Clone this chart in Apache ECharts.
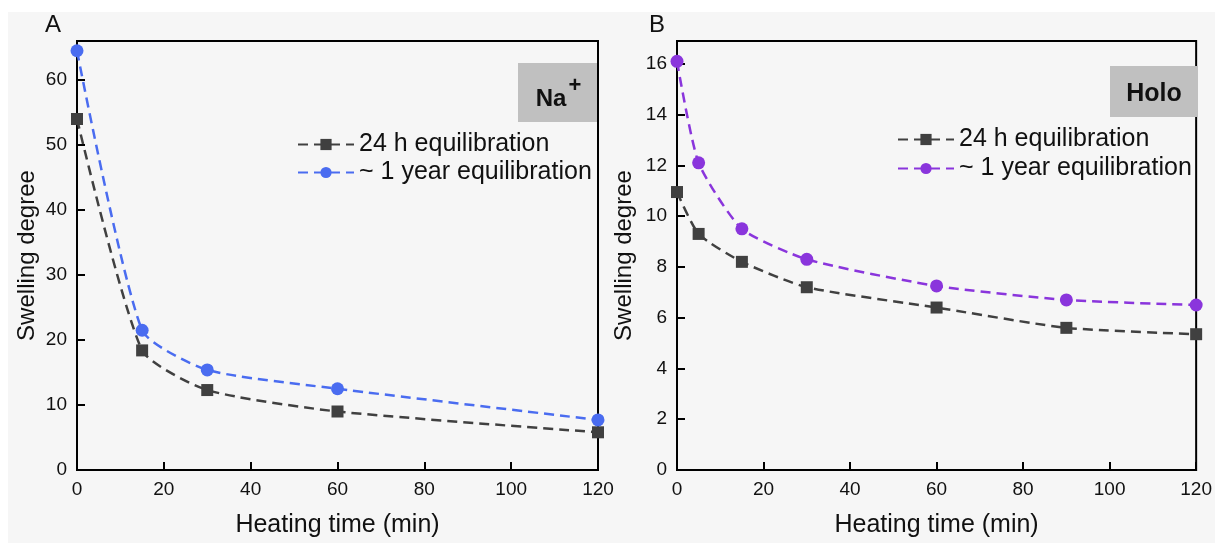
<!DOCTYPE html>
<html>
<head>
<meta charset="utf-8">
<script src="https://cdn.jsdelivr.net/npm/echarts@6/dist/echarts.min.js"></script>
<style>
html,body{margin:0;padding:0;background:#ffffff;}
#chart{width:1215px;height:543px;}
</style>
</head>
<body>
<div id="chart"></div>
<script>
// ---- data ----
const timesA = [0, 15, 30, 60, 120];
const naDay = [54.0, 18.4, 12.3, 9.0, 5.8];
const naYear = [64.5, 21.5, 15.4, 12.5, 7.7];

const timesB = [0, 5, 15, 30, 60, 90, 120];
const holoDay = [10.95, 9.3, 8.2, 7.2, 6.4, 5.6, 5.35];
const holoYear = [16.1, 12.1, 9.5, 8.3, 7.25, 6.7, 6.5];

const seriesLabels = {
  aDay: '24 h equilibration',
  aYear: '~ 1 year equilibration',
  bDay: '24 h equilibration',
  bYear: '~ 1 year equilibration'
};
const xTicks = [0, 20, 40, 60, 80, 100, 120];
const yTicksA = [0, 10, 20, 30, 40, 50, 60];
const yTicksB = [0, 2, 4, 6, 8, 10, 12, 14, 16];
const panelTitles = ['A', 'B'];
const boxLabels = ['Na', '+', 'Holo'];

// ---- styles ----
const FONT = '"Liberation Sans", Arial, Helvetica, sans-serif';
const DARK = '#404040';
const BLUE = '#4a6cf0';
const PURPLE = '#8a35dc';

function pair(xs, ys) { return xs.map((x, i) => [x, ys[i]]); }

function xAxisCfg(gridIndex) {
  return {
    gridIndex, type: 'value', min: 0, max: 120, interval: 20,
    name: 'Heating time (min)', nameLocation: 'middle', nameGap: 43,
    nameTextStyle: { fontFamily: FONT, fontSize: 25, color: '#111' },
    axisLine: { show: true, lineStyle: { color: '#000', width: 2 } },
    axisTick: { show: true, inside: true, length: 8, lineStyle: { color: '#000', width: 2 } },
    axisLabel: {
      fontFamily: FONT, fontSize: 19, color: '#111', margin: 10,
      formatter: v => xTicks.indexOf(v) >= 0 ? String(v) : ''
    },
    splitLine: { show: false }
  };
}
function yAxisCfg(gridIndex, max, interval, ticks, gap) {
  return {
    gridIndex, type: 'value', min: 0, max, interval,
    name: 'Swelling degree', nameLocation: 'middle', nameGap: gap,
    nameTextStyle: { fontFamily: FONT, fontSize: 24, color: '#111' },
    axisLine: { show: true, lineStyle: { color: '#000', width: 2 } },
    axisTick: { show: true, inside: true, length: 8, lineStyle: { color: '#000', width: 2 } },
    axisLabel: {
      fontFamily: FONT, fontSize: 19, color: '#111', margin: 10,
      formatter: v => ticks.indexOf(v) >= 0 ? String(v) : ''
    },
    splitLine: { show: false }
  };
}
function lineSeries(name, xi, data, color, symbol, size) {
  return {
    name, type: 'line', xAxisIndex: xi, yAxisIndex: xi,
    data, smooth: 0.2, clip: false,
    symbol, symbolSize: size,
    itemStyle: { color },
    lineStyle: { color, width: 2.5, type: [10, 6] },
    z: symbol === 'rect' ? 3 : 4
  };
}

const chart = echarts.init(document.getElementById('chart'), null, { renderer: 'canvas' });
chart.setOption({
  animation: false,
  backgroundColor: '#ffffff',
  grid: [
    { left: 77, top: 41, width: 521, height: 432, show: true, borderColor: '#000', borderWidth: 2, backgroundColor: 'transparent' },
    { left: 677, top: 41, width: 522, height: 432, show: true, borderColor: '#000', borderWidth: 2, backgroundColor: 'transparent' }
  ],
  xAxis: [xAxisCfg(0), xAxisCfg(1)],
  yAxis: [yAxisCfg(0, 66, 10, yTicksA, 38), yAxisCfg(1, 16.9, 2, yTicksB, 41)],
  legend: [
    {
      data: ['aDay', 'aYear'], left: 292, top: 127, orient: 'vertical',
      itemWidth: 56, itemHeight: 14, itemGap: 3,
      formatter: n => seriesLabels[n],
      textStyle: { fontFamily: FONT, fontSize: 25, color: '#111' }
    },
    {
      data: ['bDay', 'bYear'], left: 892, top: 122, orient: 'vertical',
      itemWidth: 56, itemHeight: 14, itemGap: 4,
      formatter: n => seriesLabels[n],
      textStyle: { fontFamily: FONT, fontSize: 25, color: '#111' }
    }
  ],
  series: [
    lineSeries('aDay', 0, pair(timesA, naDay), DARK, 'rect', 12),
    lineSeries('aYear', 0, pair(timesA, naYear), BLUE, 'circle', 13),
    lineSeries('bDay', 1, pair(timesB, holoDay), DARK, 'rect', 12),
    lineSeries('bYear', 1, pair(timesB, holoYear), PURPLE, 'circle', 13)
  ],
  graphic: [
    { type: 'rect', z: -10, shape: { x: 8, y: 12, width: 1207, height: 531 }, style: { fill: '#f6f6f6' }, silent: true },
    { type: 'text', left: 45, top: 13, style: { text: panelTitles[0], font: '24px ' + FONT, fill: '#111' } },
    { type: 'text', left: 649, top: 13, style: { text: panelTitles[1], font: '24px ' + FONT, fill: '#111' } },
    { type: 'rect', z: 1, shape: { x: 518, y: 63, width: 79, height: 59 }, style: { fill: '#c0c0c0' } },
    { type: 'text', z: 2, x: 551, y: 99, style: { text: boxLabels[0], font: 'bold 24px ' + FONT, fill: '#111', align: 'center', verticalAlign: 'middle' } },
    { type: 'text', z: 2, x: 575, y: 86, style: { text: boxLabels[1], font: 'bold 22px ' + FONT, fill: '#111', align: 'center', verticalAlign: 'middle' } },
    { type: 'rect', z: 1, shape: { x: 1110, y: 66, width: 88, height: 51 }, style: { fill: '#c0c0c0' } },
    { type: 'text', z: 2, x: 1154, y: 94, style: { text: boxLabels[2], font: 'bold 25px ' + FONT, fill: '#111', align: 'center', verticalAlign: 'middle' } }
  ]
});
</script>
</body>
</html>
